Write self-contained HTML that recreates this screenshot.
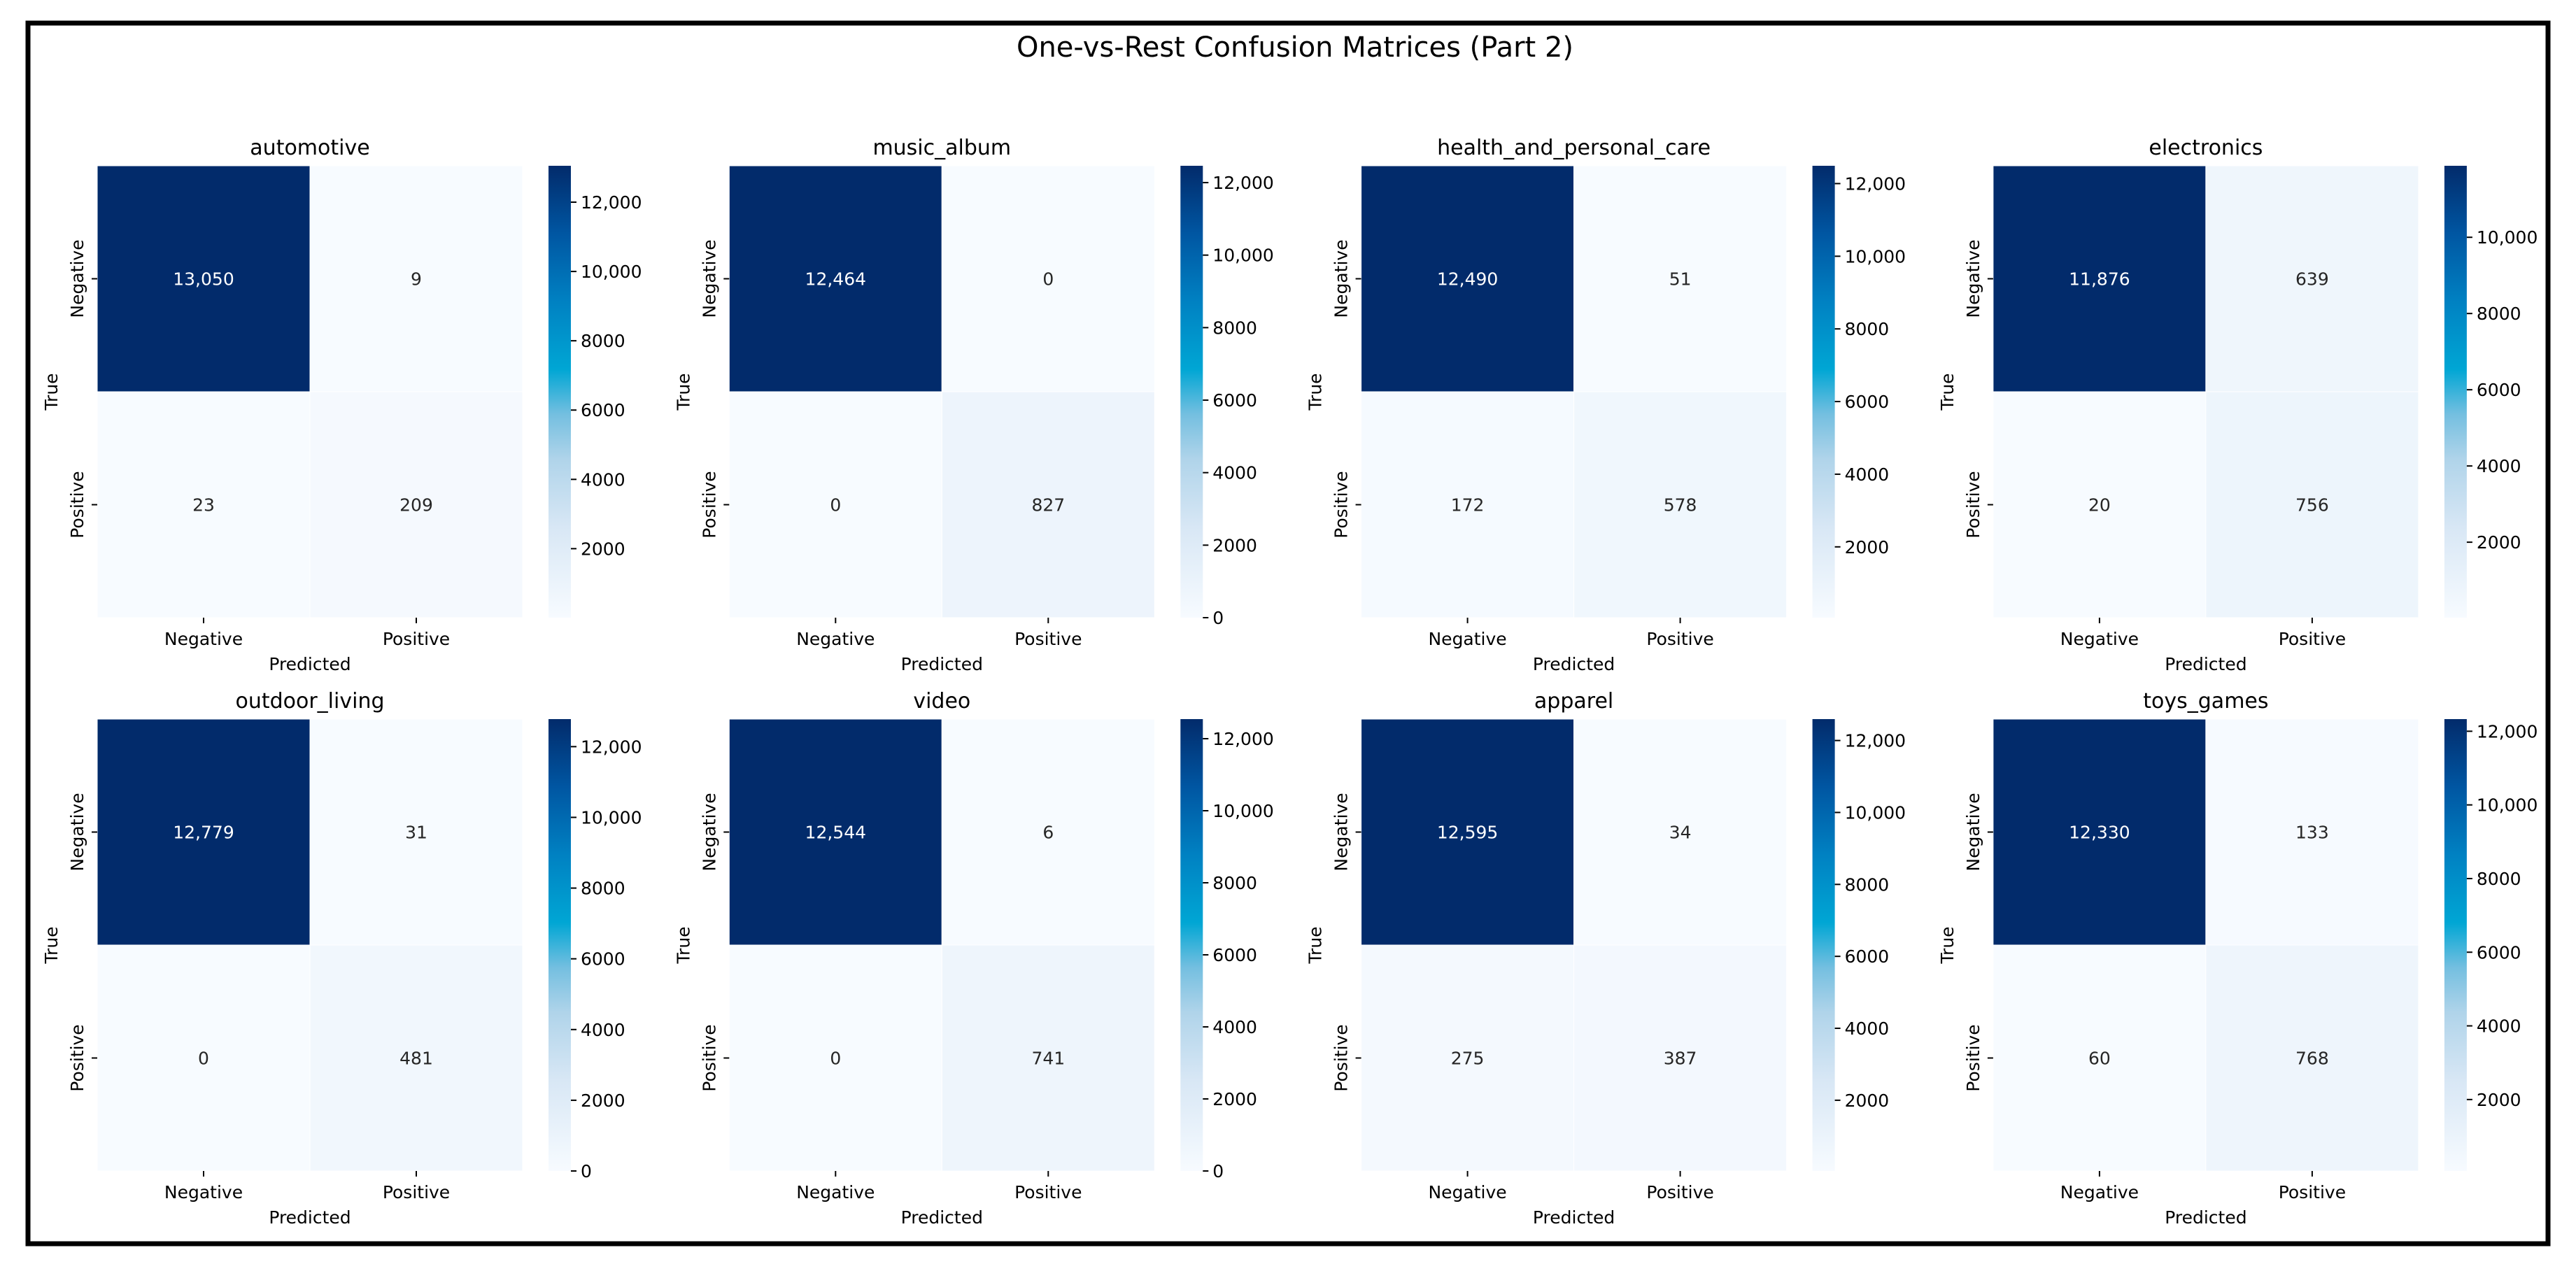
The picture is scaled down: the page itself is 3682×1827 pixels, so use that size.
<!DOCTYPE html>
<html><head><meta charset="utf-8">
<style>
html,body{margin:0;padding:0;background:#fff;}
svg text{font-family:"DejaVu Sans","Liberation Sans",sans-serif;}
</style></head>
<body>
<svg id="fig" xmlns="http://www.w3.org/2000/svg" width="3682" height="1822" viewBox="0 0 3682 1822">
<defs>
<linearGradient id="cmapGrad" x1="0" y1="1" x2="0" y2="0">
<stop offset="0" stop-color="#f7fbff"/><stop offset="0.2" stop-color="#d8e7f5"/><stop offset="0.35" stop-color="#b0d4ea"/><stop offset="0.45" stop-color="#74bfe0"/><stop offset="0.55" stop-color="#00a6d4"/><stop offset="0.7" stop-color="#0081c2"/><stop offset="0.85" stop-color="#0056a2"/><stop offset="1" stop-color="#022b6b"/>
</linearGradient>
</defs>
<rect x="40" y="33" width="3602" height="1745" fill="#fff" stroke="#000" stroke-width="7"/>
<text x="1851" y="81" font-size="40" text-anchor="middle" fill="#000">One-vs-Rest Confusion Matrices (Part 2)</text>
<g id="panels"></g>
</svg>
<script>
const categories = ["automotive","music_album","health_and_personal_care","electronics","outdoor_living","video","apparel","toys_games"];
const trueNeg = [13050,12464,12490,11876,12779,12544,12595,12330];
const falsePos = [9,0,51,639,31,6,34,133];
const falseNeg = [23,0,172,20,0,0,275,60];
const truePos = [209,827,578,756,481,741,387,768];
const classLabels = ["Negative","Positive"];

const stops=[[0,[247,251,255]],[0.2,[216,231,245]],[0.35,[176,212,234]],[0.45,[116,191,224]],[0.55,[0,166,212]],[0.7,[0,129,194]],[0.85,[0,86,162]],[1,[2,43,107]]];
function cmap(t){t=Math.max(0,Math.min(1,t));for(let i=1;i<stops.length;i++){if(t<=stops[i][0]){const a=stops[i-1],b=stops[i];const f=(t-a[0])/(b[0]-a[0]);const c=a[1].map((v,k)=>Math.round(v+(b[1][k]-v)*f));return `rgb(${c[0]},${c[1]},${c[2]})`;}}return "rgb(2,43,107)";}
function fmt(v){return v.toLocaleString("en-US");}
function tickFmt(v){return v>=10000?v.toLocaleString("en-US"):String(v);}
const NS="http://www.w3.org/2000/svg";
function el(tag,attrs,parent,txt){const e=document.createElementNS(NS,tag);for(const k in attrs)e.setAttribute(k,attrs[k]);if(txt!==undefined)e.textContent=txt;parent.appendChild(e);return e;}
const root=document.getElementById("panels");
const W=608,H=646,cbOff=645,cbW=32;
categories.forEach((name,i)=>{
  const col=i%4,row=Math.floor(i/4);
  const x0=139+903.3*col,y0=row===0?237:1028;
  const g=el("g",{},root);
  
  
  const m=[[trueNeg[i],falsePos[i]],[falseNeg[i],truePos[i]]];
  const flat=m.flat();const vmin=Math.min(...flat),vmax=Math.max(...flat);
  const xs=v=>x0+v*W/2, ys=v=>y0+v*H/2;
  const t=el("text",{x:x0+W/2,y:y0-16,"font-size":30,"text-anchor":"middle",fill:"#000"},g,name);
  
  
  for(let r=0;r<2;r++)for(let c=0;c<2;c++){
    const v=m[r][c];const tt=(v-vmin)/(vmax-vmin);
    const rc=el("rect",{x:xs(c),y:ys(r),width:W/2,height:H/2,fill:cmap(tt),stroke:"#fff","stroke-width":1},g);
    
    
    const tx=el("text",{x:xs(c+0.5),y:ys(r+0.5)+9,"font-size":25,"text-anchor":"middle",fill:tt>0.5?"#fff":"#262626"},g,fmt(v));
    
    
  }
  classLabels.forEach((lab,k)=>{
    el("line",{x1:xs(k+0.5),x2:xs(k+0.5),y1:y0+H,y2:y0+H+8,stroke:"#000","stroke-width":2},g);
    const xl=el("text",{x:xs(k+0.5),y:y0+H+39,"font-size":25,"text-anchor":"middle",fill:"#000"},g,lab);
    
    
    el("line",{x1:x0-8,x2:x0,y1:ys(k+0.5),y2:ys(k+0.5),stroke:"#000","stroke-width":2},g);
    const yl=el("text",{x:0,y:0,"font-size":25,"text-anchor":"middle",fill:"#000",transform:`translate(${x0-20},${ys(k+0.5)}) rotate(-90)`},g,lab);
    
    
  });
  const xt=el("text",{x:x0+W/2,y:y0+H+75,"font-size":25,"text-anchor":"middle",fill:"#000"},g,"Predicted");
  
  
  const yt=el("text",{x:0,y:0,"font-size":25,"text-anchor":"middle",fill:"#000",transform:`translate(${x0-57},${y0+H/2}) rotate(-90)`},g,"True");
  
  
  const cbx=x0+cbOff;
  const cb=el("rect",{x:cbx,y:y0,width:cbW,height:H,fill:"url(#cmapGrad)"},g);
  
  
  const cy=v=>y0+H-(v-vmin)/(vmax-vmin)*H;
  for(let v=0;v<=vmax;v+=2000){
    if(v<vmin)continue;
    el("line",{x1:cbx+cbW,x2:cbx+cbW+8,y1:cy(v),y2:cy(v),stroke:"#000","stroke-width":2},g);
    const ct=el("text",{x:cbx+cbW+14,y:cy(v)+9,"font-size":25,fill:"#000"},g,tickFmt(v));
    
    
  }
});
</script>
</body></html>
